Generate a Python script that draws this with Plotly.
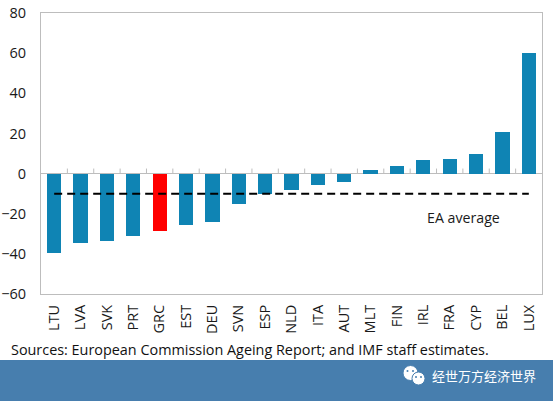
import plotly.graph_objects as go

countries = ["LTU","LVA","SVK","PRT","GRC","EST","DEU","SVN","ESP","NLD","ITA","AUT","MLT","FIN","IRL","FRA","CYP","BEL","LUX"]
values = [-39.5,-34.5,-33.5,-31,-28.5,-25.5,-24,-15,-10,-8,-5.5,-4,2,4,7,7.5,10,20.5,60]
ea_average = [-10]*len(countries)
y_ticks = [80,60,40,20,0,-20,-40,-60]
BLUE = "#0f84b4"
GREY = "#bdbdbd"
BANNER = "#477eae"
FONT = "Open Sans"
colors = ["#ff0000" if c == "GRC" else BLUE for c in countries]

L, R, T, B = 41, 11, 13, 107
W, H = 553-L-R, 401-T-B
def px(xp): return (xp-L)/W
def py(yp): return (401-B-yp)/H

fig = go.Figure()
fig.add_bar(x=list(range(len(countries))), y=values, marker=dict(color=colors, line_width=0), width=0.54)
fig.add_scatter(x=list(range(len(countries))), y=ea_average, mode="lines",
                line=dict(color="black", width=2, dash="8px,5px"))

shapes = [dict(type="line", xref="x", yref="y", x0=i+0.5, x1=i+0.5, y0=0, y1=2.5,
               line=dict(color=GREY, width=1)) for i in range(len(countries)-1)]
shapes.append(dict(type="rect", xref="paper", yref="paper", x0=px(-5), x1=px(560), y0=py(360), y1=py(405),
                   fillcolor=BANNER, line_width=0, layer="above"))
for cx, cy, r in [(410.5, 373, 7.5), (418.5, 378.5, 6.5)]:
    shapes.append(dict(type="circle", xref="paper", yref="paper", x0=px(cx-r), x1=px(cx+r), y0=py(cy+r), y1=py(cy-r),
                       fillcolor="white", line=dict(color=BANNER, width=1), layer="above"))
for cx, cy in [(407.5, 371), (413, 371), (416, 377), (421, 377)]:
    shapes.append(dict(type="circle", xref="paper", yref="paper", x0=px(cx-1), x1=px(cx+1), y0=py(cy+1), y1=py(cy-1),
                       fillcolor=BANNER, line_width=0, layer="above"))

fig.update_layout(
    width=553, height=401, autosize=False, showlegend=False, bargap=0,
    margin=dict(l=L, r=R, t=T, b=B, autoexpand=False),
    paper_bgcolor="white", plot_bgcolor="white",
    font=dict(family=FONT, color="#1a1a1a", size=14),
    xaxis=dict(range=[-0.5, 18.5], tickmode="array", tickvals=list(range(len(countries))),
               ticktext=countries, tickangle=-90, ticks="", showgrid=False, zeroline=False,
               showline=True, mirror=True, linecolor=GREY, linewidth=1,
               ticklabelstandoff=4, tickfont=dict(size=14.5, family=FONT)),
    yaxis=dict(range=[-60, 80], tickmode="array", tickvals=y_ticks, ticks="", showgrid=False,
               zeroline=True, zerolinecolor=GREY, zerolinewidth=1, showline=True, mirror=True,
               linecolor=GREY, linewidth=1, ticklabelstandoff=11, tickfont=dict(size=14.5, family=FONT)),
    shapes=shapes,
    annotations=[
        dict(text="EA average", x=px(463.5), y=py(217.5), xref="paper", yref="paper", xanchor="center", yanchor="middle",
             showarrow=False, font=dict(size=14.2)),
        dict(text="Sources: European Commission Ageing Report; and IMF staff estimates.", x=px(9), y=py(349),
             xref="paper", yref="paper", xanchor="left", yanchor="middle", showarrow=False,
             font=dict(size=14.4, color="#111")),
        dict(text="经世万方经济世界", x=px(430), y=py(375), xref="paper", yref="paper", xanchor="left", yanchor="middle",
             showarrow=False, font=dict(family="Noto Sans CJK SC", size=13, color="white")),
    ],
)
fig.write_html("out.html", post_script="document.body.style.margin='0';", config={"displayModeBar": False})
